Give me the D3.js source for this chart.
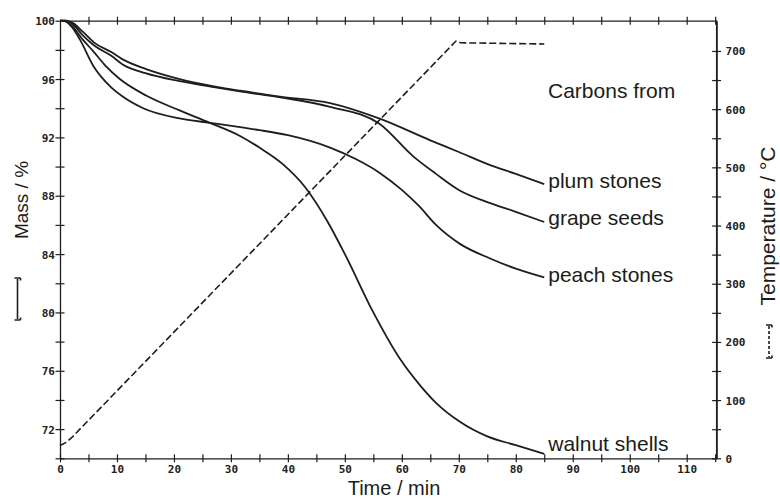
<!DOCTYPE html>
<html>
<head>
<meta charset="utf-8">
<script src="https://cdn.jsdelivr.net/npm/d3@7"></script>
<style>
  body { margin: 0; background: #fff; }
  svg { display: block; }
  .tick text { font-family: "DejaVu Sans Mono", monospace; font-weight: bold; font-size: 11px; fill: #222; }
  .lbl { font-family: "Liberation Sans", Arial, sans-serif; fill: #1c1c1c; }
</style>
</head>
<body>
<svg id="chart" width="780" height="499"></svg>
<script>
// mass curves, [time min, mass %]
const plumStones = [[0,100],[1,100],[2,99.9],[4,99.25],[6,98.5],[9,97.85],[11,97.35],[15,96.7],[21,96.0],[27,95.5],[31.6,95.2],[38.6,94.8],[47.4,94.35],[56,93.3],[65,91.8],[70,91.0],[75.5,90.1],[80,89.5],[85,88.8]];
const grapeSeeds = [[0,100],[1,100],[2,99.85],[4,99.0],[6,98.3],[9,97.6],[11,97.0],[15,96.4],[21,95.85],[27,95.45],[31.6,95.15],[38.6,94.75],[47.4,94.1],[56,92.96],[62,90.7],[66,89.5],[70,88.4],[75.5,87.5],[80,86.9],[85,86.2]];
const peachStones = [[0,100],[1,99.95],[2,99.6],[3.5,98.7],[5.85,96.9],[8.8,95.5],[11,94.8],[14.6,94.0],[21,93.3],[26.3,93.0],[31.6,92.7],[35,92.5],[40,92.15],[47.4,91.3],[52,90.5],[56,89.6],[60,88.4],[63,87.3],[66,86.0],[70.2,84.7],[75.5,83.7],[80,83.0],[85,82.4]];
const walnutShells = [[0,100],[1,99.95],[2,99.7],[4,98.7],[5.85,97.9],[8,96.9],[10.5,96.0],[15.2,94.85],[21,93.85],[26.3,93.0],[31.6,92.1],[35,91.3],[39,90.2],[43,88.6],[47,86.2],[50,84.0],[55,80.0],[59.7,76.8],[63.2,75.0],[66,73.8],[70.2,72.5],[75,71.5],[80,70.9],[85,70.3]];
// furnace temperature, [time min, °C]
const temperature = [[0,22],[1,27],[2,35],[69.5,717],[70.3,714],[85,712]];

const seriesNames = ["plum stones", "grape seeds", "peach stones", "walnut shells"];
const xTickLabels = [0,10,20,30,40,50,60,70,80,90,100,110];
const massTickLabels = [72,76,80,84,88,92,96,100];
const tempTickLabels = [0,100,200,300,400,500,600,700];

const series = [plumStones, grapeSeeds, peachStones, walnutShells];
const labelDy = [4, 3.5, 5, -3];

const svg = d3.select('#chart');
const ink = '#1e1e1e';

const x = d3.scaleLinear().domain([0, 115.25]).range([60, 716.6]);
const yMass = d3.scaleLinear().domain([70, 100]).range([458.3, 20.7]);
const yTemp = d3.scaleLinear().domain([0, 752]).range([458.3, 20.7]);

// crossing ticks: move the inner tick so it straddles the axis line
function styleAxis(g, dir) {
    g.select('.domain').attr('stroke', ink).attr('stroke-width', 1.3);
    g.selectAll('.tick line').attr('stroke', ink).attr('stroke-width', 1.2);
    if (dir === 'h') g.selectAll('.tick line').attr('y1', -4).attr('y2', 4);
    else g.selectAll('.tick line').attr('x1', -4.5).attr('x2', 4.5);
}

// bottom
const axisB = svg.append('g')
    .attr('transform', `translate(0,${yMass(70)})`)
    .call(d3.axisBottom(x).tickValues(d3.range(0, 116, 5)).tickSizeOuter(0)
        .tickFormat(d => xTickLabels.includes(d) ? d : ''));
styleAxis(axisB, 'h');
axisB.selectAll('.tick text').attr('y', 7);

// top frame with ticks, no labels
const axisT = svg.append('g')
    .attr('transform', `translate(0,${yMass(100)})`)
    .call(d3.axisTop(x).tickValues(d3.range(5, 116, 5)).tickSizeOuter(0).tickFormat(''));
styleAxis(axisT, 'h');

// left
const axisL = svg.append('g')
    .attr('transform', `translate(${x(0)},0)`)
    .call(d3.axisLeft(yMass).tickValues(d3.range(70, 101, 2)).tickSizeOuter(0)
        .tickFormat(d => massTickLabels.includes(d) ? d : ''));
styleAxis(axisL, 'v');
axisL.selectAll('.tick text').attr('x', -5).attr('dy', '0.36em');

// right
const axisR = svg.append('g')
    .attr('transform', `translate(${x(115.25)},0)`)
    .call(d3.axisRight(yTemp).tickValues(d3.range(0, 701, 50)).tickSizeOuter(0)
        .tickFormat(d => tempTickLabels.includes(d) ? d : ''));
styleAxis(axisR, 'v');
axisR.selectAll('.tick text').attr('x', 9).attr('dy', '0.36em');
svg.append('line')
    .attr('x1', x(115.25)).attr('x2', x(115.25))
    .attr('y1', yTemp(752)).attr('y2', yTemp(0))
    .attr('stroke', ink).attr('stroke-width', 1.3);

// curves
const massLine = d3.line().x(d => x(d[0])).y(d => yMass(d[1])).curve(d3.curveMonotoneX);
svg.append('g').selectAll('path')
    .data(series)
    .enter()
    .append('path')
    .attr('d', massLine)
    .attr('fill', 'none')
    .attr('stroke', ink)
    .attr('stroke-width', 1.8);

const tempLine = d3.line().x(d => x(d[0])).y(d => yTemp(d[1]));
svg.append('path')
    .datum(temperature)
    .attr('d', tempLine)
    .attr('fill', 'none')
    .attr('stroke', ink)
    .attr('stroke-width', 1.6)
    .attr('stroke-dasharray', '7,3');

// curve labels
svg.append('g').selectAll('text')
    .data(series)
    .enter()
    .append('text')
    .attr('class', 'lbl')
    .attr('font-size', 21)
    .attr('x', d => x(d[d.length - 1][0]) + 4)
    .attr('y', (d, i) => yMass(d[d.length - 1][1]) + labelDy[i])
    .text((d, i) => seriesNames[i]);

svg.append('text').attr('class', 'lbl').attr('font-size', 21)
    .attr('x', 548).attr('y', 98)
    .text('Carbons from');

// axis titles
svg.append('text').attr('class', 'lbl').attr('font-size', 20)
    .attr('x', 394).attr('y', 495).attr('text-anchor', 'middle')
    .text('Time / min');

svg.append('text').attr('class', 'lbl').attr('font-size', 19)
    .attr('text-anchor', 'middle')
    .attr('transform', 'translate(28,200) rotate(-90)')
    .text('Mass / %');

svg.append('text').attr('class', 'lbl').attr('font-size', 21)
    .attr('text-anchor', 'middle')
    .attr('transform', 'translate(775,226) rotate(-90)')
    .text('Temperature / °C');

// line-style keys next to the titles
function key(cx, y1, y2, dash) {
    const g = svg.append('g').attr('stroke', ink).attr('fill', 'none').attr('stroke-width', 1.6);
    g.append('line').attr('x1', cx).attr('x2', cx).attr('y1', y1 + 1).attr('y2', y2 - 1)
        .attr('stroke-dasharray', dash);
    g.append('path').attr('d', `M${cx - 3},${y1} H${cx + 3} M${cx - 3},${y2} H${cx + 3}`);
    g.append('path').attr('d', `M${cx + 3},${y1} v2.5 M${cx + 3},${y2} v-2.5`);
}
key(17.5, 278, 320, null);
key(769, 325, 358, '3,2');
</script>
</body>
</html>
